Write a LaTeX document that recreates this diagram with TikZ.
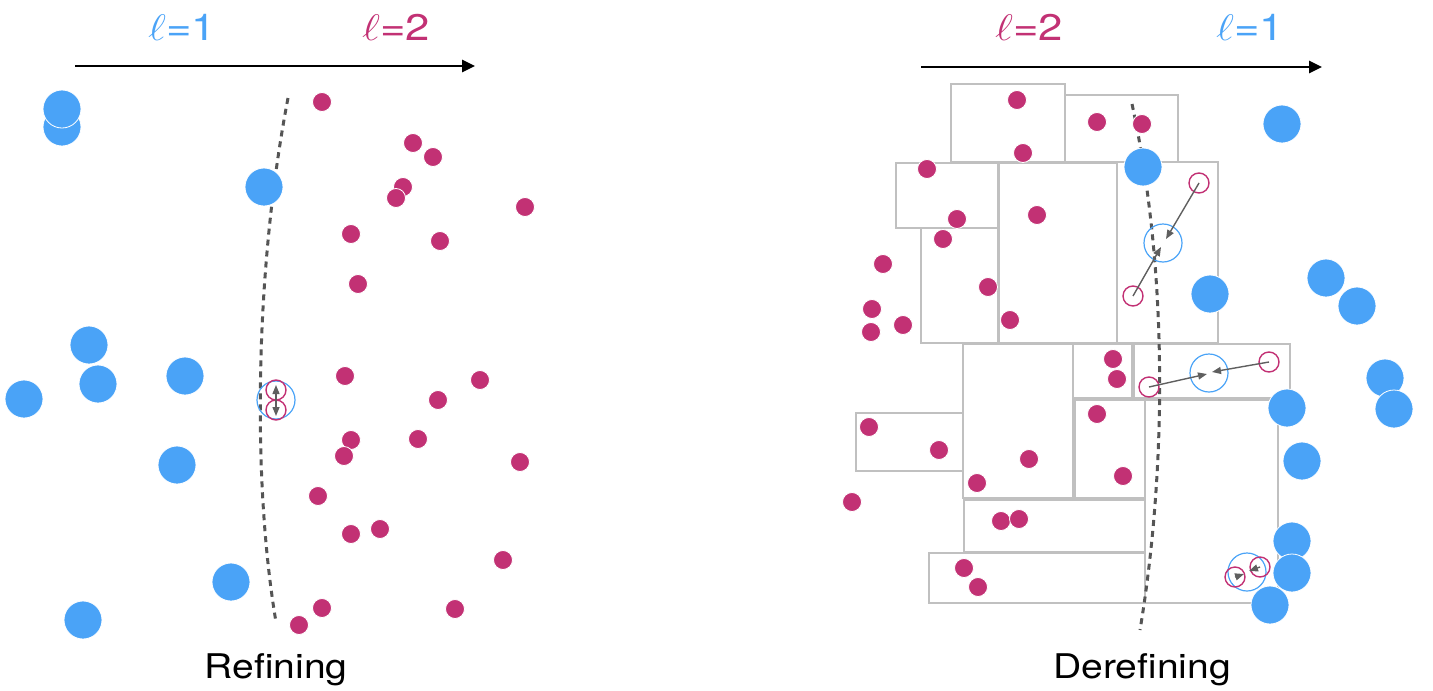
\RequirePackage{fix-cm}
\documentclass[tikz,border=0pt]{standalone}
\usepackage{graphicx}
\usepackage{fontspec}
\setmainfont{TeX Gyre Heros}
\usetikzlibrary{arrows.meta}

\definecolor{lvblue}{RGB}{74,163,247}
\definecolor{lvmag}{RGB}{194,49,116}
\definecolor{cellgray}{RGB}{192,192,192}
\definecolor{dashgray}{RGB}{85,85,85}
\definecolor{movegray}{RGB}{95,95,95}

% wide lettering used for the level labels and the captions
\newcommand{\widetext}[2]{\scalebox{#1}[1]{#2}}

\tikzset{
  bdot/.style={circle,inner sep=0pt,minimum size=38pt,fill=lvblue,draw=white,line width=0.8pt},
  mdot/.style={circle,inner sep=0pt,minimum size=19pt,fill=lvmag,draw=white,line width=0.8pt},
  bring/.style={circle,inner sep=0pt,minimum size=38pt,draw=lvblue,line width=1.2pt},
  mring/.style={circle,inner sep=0pt,minimum size=20pt,draw=lvmag,line width=1.4pt},
  cell/.style={draw=cellgray,line width=2.8pt},
  front/.style={draw=dashgray,line width=3pt,dash pattern=on 6pt off 5pt},
  axis/.style={line width=2.6pt,-{Triangle[length=13pt,width=12pt]}},
  mv/.style={draw=movegray,line width=1.4pt,-{Triangle[length=9pt,width=7pt]}},
  lvl/.style={anchor=base,font=\fontsize{37}{40}\selectfont,inner sep=0pt},
  caption/.style={anchor=base,font=\fontsize{34}{38}\selectfont,inner sep=0pt},
}

\begin{document}
\begin{tikzpicture}[x=1pt,y=-1pt]
\useasboundingbox (0,0) rectangle (1433,691);

% ---------- Refining ----------
\draw[axis] (75,66) coordinate (axL0) -- (475,66) coordinate (axL1);
\node[lvl,text=lvblue] (lvL1) at (182,40) {\widetext{1.18}{$\ell$=1}};
\node[lvl,text=lvmag] (lvL2) at (396,40) {\widetext{1.18}{$\ell$=2}};

\draw[front] (288,98) .. controls (255,270) and (252,480) .. (276,622);

\foreach \x/\y [count=\i] in {62/127,62/109,264/187,89/345,98/384,24/399,185/376,177/465,231/582,83/620}
  \node[bdot] (lb\i) at (\x,\y) {};

\foreach \x/\y [count=\i] in {322/102,413/143,433/157,403/187,396/198,525/207,351/234,440/241,358/284,
  345/376,480/380,438/400,351/440,418/439,344/456,520/462,318/496,380/529,351/534,503/560,322/608,455/609,299/625}
  \node[mdot] (lm\i) at (\x,\y) {};

\node[bring] (lsplit) at (276,400) {};
\node[mring] (lchildA) at (276,390) {};
\node[mring] (lchildB) at (276,410) {};
\coordinate (lup) at (276,385);
\coordinate (ldown) at (276,416);
\draw[mv,{Triangle[length=9pt,width=7pt]}-{Triangle[length=9pt,width=7pt]}] (lup) -- (ldown);

\node[caption] (capL) at (276,678) {\widetext{1.15}{Refining}};

% ---------- Derefining ----------
\draw[axis] (921,67) coordinate (axR0) -- (1322,67) coordinate (axR1);
\node[lvl,text=lvmag] (lvR2) at (1029,40) {\widetext{1.18}{$\ell$=2}};
\node[lvl,text=lvblue] (lvR1) at (1250,40) {\widetext{1.18}{$\ell$=1}};

% cells of the level-2 region
\foreach \ax/\ay/\bx/\by in {951/84/1065/162, 1065/95/1178/162, 896/163/998/228, 921/228/998/343,
  999/163/1117/343, 1117/162/1218/343, 963/344/1073/498, 1073/344/1132/398, 1134/344/1290/398,
  856/413/963/471, 1075/400/1145/498, 1145/400/1278/603, 964/500/1145/552, 929/553/1145/603}
  \draw[cell] (\ax,\ay) rectangle (\bx,\by);

\draw[front] (1132,104) .. controls (1170,280) and (1165,480) .. (1140,630);

\foreach \x/\y [count=\i] in {1017/100,1097/122,1142/124,1023/153,927/169,957/219,943/239,1037/215,883/264,
  988/287,1010/320,903/325,872/309,871/332,1113/359,1117/379,1097/414,869/427,939/450,852/502,1029/459,
  977/483,1123/476,1001/521,1019/519,964/568,978/587}
  \node[mdot] (rm\i) at (\x,\y) {};

\foreach \x/\y [count=\i] in {1282/124,1143/167,1326/278,1210/294,1357/306,1385/378,1287/408,1394/409,
  1302/461,1292/541,1292/573,1270/605}
  \node[bdot] (rb\i) at (\x,\y) {};

% merged parents and the children moving onto them
\node[bring] (mergeA) at (1163,243) {};
\node[mring] (mAa) at (1199,183) {};
\node[mring] (mAb) at (1133,296) {};
\coordinate (tAa) at (1166,239);
\coordinate (tAb) at (1161,247);
\draw[mv] (mAa.center) -- (tAa);
\draw[mv] (mAb.center) -- (tAb);

\node[bring] (mergeB) at (1209,373) {};
\node[mring] (mBa) at (1269,362) {};
\node[mring] (mBb) at (1149,387) {};
\coordinate (tBa) at (1212,372);
\coordinate (tBb) at (1207,374);
\draw[mv] (mBa.center) -- (tBa);
\draw[mv] (mBb.center) -- (tBb);

\node[bring] (mergeC) at (1247,572) {};
\node[mring] (mCa) at (1260,567) {};
\node[mring] (mCb) at (1235,577) {};
\coordinate (tCa) at (1249,571);
\coordinate (tCb) at (1244,574);
\draw[mv] (mCa.center) -- (tCa);
\draw[mv] (mCb.center) -- (tCb);

\node[caption] (capR) at (1142,678) {\widetext{1.15}{Derefining}};
\end{tikzpicture}
\end{document}
